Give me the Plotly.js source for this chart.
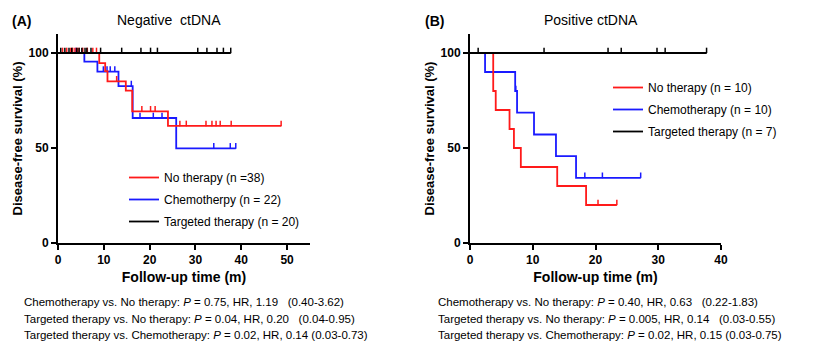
<!DOCTYPE html>
<html><head><meta charset="utf-8">
<script src="https://cdn.plot.ly/plotly-3.0.1.min.js"></script>
<style>html,body{margin:0;padding:0;background:#fff}#chart{width:816px;height:352px}</style>
</head><body><div id="chart"></div>
<script>
// ---- Panel A: Negative ctDNA ----
const aNoT = [0, 9.0, 10.3, 10.8, 14.8, 16.2, 24.0, 48.7];
const aNoS = [100, 94.7, 90.5, 85.1, 80.2, 69.3, 61.6, 61.6];
const aNoCensT = [1.0, 1.9, 2.8, 3.2, 3.7, 4.2, 4.6, 5.4, 6.4, 7.6, 8.4, 12.8, 18.3, 20.2, 21.2, 26.6, 28.0, 32.3, 33.6, 34.5, 35.4, 37.8, 48.7];
const aNoCensS = [100, 100, 100, 100, 100, 100, 100, 100, 100, 100, 100, 85.1, 69.3, 69.3, 69.3, 61.6, 61.6, 61.6, 61.6, 61.6, 61.6, 61.6, 61.6];

const aChT = [0, 5.75, 8.6, 13.2, 16.3, 25.8, 38.8];
const aChS = [100, 95.5, 90.2, 82.6, 65.8, 49.8, 49.8];
const aChCensT = [3.9, 9.9, 10.7, 11.4, 12.4, 16.0, 17.9, 20.8, 22.7, 34.0, 37.6, 38.8];
const aChCensS = [100, 90.2, 90.2, 90.2, 90.2, 82.6, 65.8, 65.8, 65.8, 49.8, 49.8, 49.8];

const aTaT = [0, 37.7];
const aTaS = [100, 100];
const aTaCensT = [0.6, 1.5, 2.4, 3.0, 4.1, 4.6, 5.2, 5.9, 6.3, 7.2, 9.3, 13.9, 18.1, 20.2, 21.7, 30.5, 32.5, 34.7, 36.1, 37.7];
const aTaCensS = aTaCensT.map(() => 100);

// ---- Panel B: Positive ctDNA ----
const bNoT = [0, 3.7, 4.1, 6.3, 7.0, 8.1, 13.9, 18.5, 23.4];
const bNoS = [100, 80, 70, 60, 50, 40, 30, 20, 20];
const bNoCensT = [20.4, 23.4];
const bNoCensS = [20, 20];

const bChT = [0, 2.4, 7.2, 7.5, 10.2, 13.7, 16.9, 27.2];
const bChS = [100, 90, 80, 68.6, 57.1, 45.7, 34.3, 34.3];
const bChCensT = [7.3, 18.3, 21.1, 27.2];
const bChCensS = [80, 34.3, 34.3, 34.3];

const bTaT = [0, 37.7];
const bTaS = [100, 100];
const bTaCensT = [1.3, 11.8, 22.0, 24.1, 29.8, 31.1, 37.7];
const bTaCensS = bTaCensT.map(() => 100);

const yTicks = [0, 50, 100];
const aXTicks = [0, 10, 20, 30, 40, 50];
const bXTicks = [0, 10, 20, 30, 40];

const legA = ["No therapy (n =38)", "Chemotherpy (n = 22)", "Targeted therapy (n = 20)"];
const legB = ["No therapy (n = 10)", "Chemotherapy (n = 10)", "Targeted therapy (n = 7)"];

const statsA = [
  "Chemotherapy vs. No therapy: <i>P</i> = 0.75, HR, 1.19\u00a0\u00a0\u00a0(0.40-3.62)",
  "Targeted therapy vs. No therapy: <i>P</i> = 0.04, HR, 0.20\u00a0\u00a0\u00a0(0.04-0.95)",
  "Targeted therapy vs. Chemotherapy: <i>P</i> = 0.02, HR, 0.14 (0.03-0.73)"
];
const statsB = [
  "Chemotherapy vs. No therapy: <i>P</i> = 0.40, HR, 0.63\u00a0\u00a0\u00a0(0.22-1.83)",
  "Targeted therapy vs. No therapy: <i>P</i> = 0.005, HR, 0.14\u00a0\u00a0\u00a0(0.03-0.55)",
  "Targeted therapy vs. Chemotherapy: <i>P</i> = 0.02, HR, 0.15 (0.03-0.75)"
];

const RED = "#ff1a1a", BLUE = "#1a1aff", BLACK = "#000000";
const FONT = "Arial, 'Liberation Sans', sans-serif";

function stepTrace(t, s, color, name, xa, ya, leg, rank, grp) {
  return {x: t, y: s, type: "scatter", mode: "lines", line: {shape: "hv", color: color, width: 1.8},
    name: name, xaxis: xa, yaxis: ya, legend: leg, legendrank: rank, legendgroup: grp, hoverinfo: "skip"};
}
function censTrace(t, s, color, xa, ya, grp, len) {
  return {x: t, y: s, type: "scatter", mode: "markers", marker: {size: 1, color: color},
    error_y: {type: "constant", symmetric: false, value: len, valueminus: 0, width: 0, thickness: 1.5, color: color},
    showlegend: false, xaxis: xa, yaxis: ya, legendgroup: grp, hoverinfo: "skip"};
}

const data = [
  stepTrace(aChT, aChS, BLUE, legA[1], "x", "y", "legend", 2, "a2"),
  censTrace(aChCensT, aChCensS, BLUE, "x", "y", "a2", 2.8),
  stepTrace(aNoT, aNoS, RED, legA[0], "x", "y", "legend", 1, "a1"),
  censTrace(aNoCensT, aNoCensS, RED, "x", "y", "a1", 2.8),
  stepTrace(aTaT, aTaS, BLACK, legA[2], "x", "y", "legend", 3, "a3"),
  censTrace(aTaCensT, aTaCensS, BLACK, "x", "y", "a3", 2.8),

  stepTrace(bChT, bChS, BLUE, legB[1], "x2", "y2", "legend2", 2, "b2"),
  censTrace(bChCensT, bChCensS, BLUE, "x2", "y2", "b2", 2.8),
  stepTrace(bNoT, bNoS, RED, legB[0], "x2", "y2", "legend2", 1, "b1"),
  censTrace(bNoCensT, bNoCensS, RED, "x2", "y2", "b1", 2.8),
  stepTrace(bTaT, bTaS, BLACK, legB[2], "x2", "y2", "legend2", 3, "b3"),
  censTrace(bTaCensT, bTaCensS, BLACK, "x2", "y2", "b3", 2.8)
];

const W = 816, H = 352;
const yDom = [1 - 243 / H, 1 - 34 / H];

function xAxis(dom, range, ticks, anchor) {
  return {domain: dom, range: range, tickvals: ticks, ticktext: ticks.map(String), anchor: anchor,
    showline: true, linecolor: "#000", linewidth: 2, ticks: "outside", ticklen: 5, tickwidth: 2, tickcolor: "#000",
    showgrid: false, zeroline: false, tickfont: {family: FONT, size: 12, color: "#000", weight: "bold"},
    title: {text: "<b>Follow-up time (m)</b>", font: {family: FONT, size: 14, color: "#000"}, standoff: 6}};
}
function yAxis(range, anchor) {
  return {domain: yDom, range: range, tickvals: yTicks, ticktext: yTicks.map(String), anchor: anchor,
    showline: true, linecolor: "#000", linewidth: 2, ticks: "outside", ticklen: 5, tickwidth: 2, tickcolor: "#000",
    showgrid: false, zeroline: false, tickfont: {family: FONT, size: 12, color: "#000", weight: "bold"},
    title: {text: "<b>Disease-free survival (%)</b>", font: {family: FONT, size: 13, color: "#000"}, standoff: 3}};
}

const annotations = [];
function addText(txt, xpx, ypx, size, anchor) {
  annotations.push({text: txt, xref: "paper", yref: "paper", x: xpx / W, y: 1 - ypx / H,
    xanchor: anchor || "left", yanchor: "middle", showarrow: false,
    font: {family: FONT, size: size, color: "#000"}});
}
addText("<b>(A)</b>", 10, 21, 14);
addText("<b>(B)</b>", 423, 21, 14);
addText("Negative\u00a0 ctDNA", 169, 20, 14, "center");
addText("Positive ctDNA", 591, 20, 14, "center");
statsA.forEach((s, i) => addText(s, 22, 302 + i * 16.5, 11.5));
statsB.forEach((s, i) => addText(s, 436, 302 + i * 16.5, 11.5));

const legendStyle = {font: {family: FONT, size: 12, color: "#000"}, bgcolor: "rgba(0,0,0,0)",
  xanchor: "left", yanchor: "top", traceorder: "grouped", tracegroupgap: 3, itemwidth: 30};

const layout = {
  width: W, height: H, margin: {l: 0, r: 0, t: 0, b: 0},
  paper_bgcolor: "#fff", plot_bgcolor: "#fff",
  xaxis: xAxis([58 / W, 310 / W], [0, 55], aXTicks, "y"),
  yaxis: yAxis([0, 110], "x"),
  xaxis2: xAxis([470 / W, 721 / W], [0, 40], bXTicks, "y2"),
  yaxis2: yAxis([0, 110], "x2"),
  legend: Object.assign({x: 124 / W, y: 1 - 163 / H}, legendStyle),
  legend2: Object.assign({x: 608 / W, y: 1 - 73 / H}, legendStyle),
  annotations: annotations,
  showlegend: true
};

Plotly.newPlot("chart", data, layout, {displayModeBar: false, staticPlot: true});
</script></body></html>
